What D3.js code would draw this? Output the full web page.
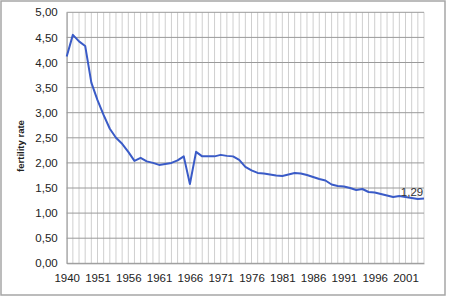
<!DOCTYPE html>
<html>
<head>
<meta charset="utf-8">
<script src="https://cdn.jsdelivr.net/npm/d3@7"></script>
<style>
  body { margin: 0; background: #fff; }
  text { font-family: Arial, "Liberation Sans", sans-serif; }
</style>
</head>
<body>
<svg id="chart"></svg>
<script>
// years (category axis: 1940 then 1947..2004)
var years = [1940, 1947, 1948, 1949, 1950, 1951, 1952, 1953, 1954, 1955,
             1956, 1957, 1958, 1959, 1960, 1961, 1962, 1963, 1964, 1965,
             1966, 1967, 1968, 1969, 1970, 1971, 1972, 1973, 1974, 1975,
             1976, 1977, 1978, 1979, 1980, 1981, 1982, 1983, 1984, 1985,
             1986, 1987, 1988, 1989, 1990, 1991, 1992, 1993, 1994, 1995,
             1996, 1997, 1998, 1999, 2000, 2001, 2002, 2003, 2004];
var fertility = [4.12, 4.55, 4.42, 4.33, 3.60, 3.25, 2.95, 2.68, 2.50, 2.38,
                 2.22, 2.04, 2.10, 2.03, 2.00, 1.96, 1.98, 2.00, 2.05, 2.13,
                 1.58, 2.22, 2.13, 2.13, 2.13, 2.16, 2.14, 2.13, 2.06, 1.92,
                 1.85, 1.80, 1.79, 1.77, 1.75, 1.74, 1.77, 1.80, 1.79, 1.76,
                 1.72, 1.68, 1.65, 1.57, 1.54, 1.53, 1.50, 1.46, 1.48, 1.42,
                 1.41, 1.38, 1.35, 1.32, 1.34, 1.32, 1.30, 1.28, 1.29];
var yTicks = [0, 0.5, 1, 1.5, 2, 2.5, 3, 3.5, 4, 4.5, 5];
var lastLabel = "1,29";
var yTitle = "fertility rate";

var W = 450, H = 300;
var pLeft = 66.7, pRight = 424, pTop = 12.3, pBottom = 263.3;

var svg = d3.select("#chart").attr("width", W).attr("height", H);

svg.append("rect").attr("x", 1).attr("y", 1).attr("width", 444).attr("height", 294)
    .attr("fill", "#fff").attr("stroke", "#a6a6a6").attr("stroke-width", 1.5);

var x = d3.scalePoint().domain(years).range([pLeft, pRight]);
var y = d3.scaleLinear().domain([0, 5]).range([pBottom, pTop]);

// vertical grid, one per category
svg.append("g").selectAll("line").data(years).join("line")
    .attr("x1", function(d){return x(d);}).attr("x2", function(d){return x(d);})
    .attr("y1", pTop).attr("y2", pBottom)
    .attr("stroke", "#cfcfcf").attr("stroke-width", 1);

// horizontal grid
svg.append("g").selectAll("line").data(yTicks).join("line")
    .attr("x1", pLeft).attr("x2", pRight)
    .attr("y1", function(d){return y(d);}).attr("y2", function(d){return y(d);})
    .attr("stroke", "#9a9a9a").attr("stroke-width", 1);

// y axis labels
var fmt = function(d){ return d3.format(".2f")(d).replace(".", ","); };
var yAxis = d3.axisLeft(y).tickValues(yTicks).tickFormat(fmt).tickSize(0).tickPadding(9);
var gy = svg.append("g").attr("transform", "translate(" + pLeft + ",0)").call(yAxis);
gy.select(".domain").attr("stroke", "#9a9a9a");
gy.selectAll("text").style("font-size", "11.5px").attr("fill", "#222");

// x axis labels every 5 categories
var xAxis = d3.axisBottom(x).tickValues(years.filter(function(d, i){return i % 5 == 0;}))
    .tickSize(0).tickPadding(11);
var gx = svg.append("g").attr("transform", "translate(0," + pBottom + ")").call(xAxis);
gx.select(".domain").attr("stroke", "#9a9a9a");
gx.selectAll("text").style("font-size", "11.5px").attr("fill", "#222");

// y title
svg.append("text").attr("transform", "translate(24,146) rotate(-90)")
    .attr("text-anchor", "middle").style("font-size", "9.5px").style("font-weight", "bold")
    .attr("fill", "#222").text(yTitle);

// line
var line = d3.line().x(function(d, i){return x(years[i]);}).y(function(d){return y(d);});
svg.append("path").datum(fertility).attr("d", line)
    .attr("fill", "none").attr("stroke", "#3a5bc7").attr("stroke-width", 2)
    .attr("stroke-linejoin", "round");

// data label at the last point
var n = years.length - 1;
svg.append("text").attr("x", x(years[n]) - 12).attr("y", y(fertility[n]) - 3)
    .attr("text-anchor", "middle").style("font-size", "11.5px").attr("fill", "#333")
    .text(lastLabel);
</script>
</body>
</html>
